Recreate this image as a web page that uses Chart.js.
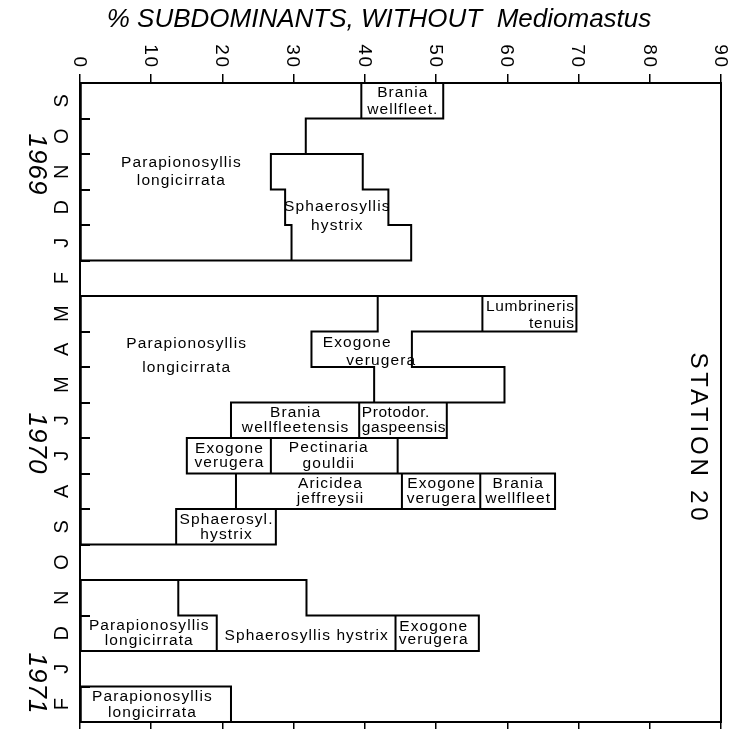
<!DOCTYPE html>
<html><head><meta charset="utf-8">
<script src="https://cdn.jsdelivr.net/npm/chart.js@4.4.1/dist/chart.umd.min.js"></script>
<style>html,body{margin:0;padding:0;background:#fff}canvas{display:block}</style>
</head><body>
<canvas id="c" width="737" height="729"></canvas>
<script>
// ---- data ----
const months = ['S','O','N','D','J','F','M','A','M','J','J','A','S','O','N','D','J','F'];
const xTickValues = [0,10,20,30,40,50,60,70,80,90];
const years = ['1969','1970','1971'];
const titleText = '% SUBDOMINANTS, WITHOUT  Mediomastus';
const stationText = 'STATION 20';
const speciesNames = ['Parapionosyllis longicirrata','Sphaerosyllis hystrix','Aricidea jeffreysii','Exogone verugera','Brania wellfleetensis','Protodorvillea gaspeensis','Pectinaria gouldii','Lumbrineris tenuis'];
const parapionosyllis = [39.5,31.7,26.8,28.8,29.7,null,41.8,32.5,41.3,21.2,15.0,21.9,13.5,null,13.8,19.2,null,21.2];
const sphaerosyllis   = [null,null,12.9,14.5,16.8,null,null,null,null,null,null,null,14.0,null,18.0,25.1,null,null];
const aricidea        = [null,null,null,null,null,null,null,null,null,null,null,23.3,null,null,null,null,null,null];
const exogone         = [null,null,null,null,null,null,14.7,14.1,18.3,null,11.8,11.0,null,null,null,11.7,null,null];
const brania          = [11.5,null,null,null,null,null,null,null,null,18.0,null,10.5,null,null,null,null,null,null];
const protodorvillea  = [null,null,null,null,null,null,null,null,null,12.3,null,null,null,null,null,null,null,null];
const pectinaria      = [null,null,null,null,null,null,null,null,null,null,17.8,null,null,null,null,null,null,null];
const lumbrineris     = [null,null,null,null,null,null,13.2,null,null,null,null,null,null,null,null,null,null,null];
const seriesValues = [parapionosyllis,sphaerosyllis,aricidea,exogone,brania,protodorvillea,pectinaria,lumbrineris];

// ---- annotation layout (text placement) ----
const boxLabels = [
 {row:0, sp:4, lines:['Brania','wellfleet.'], gap:17},
 {row:2, sp:0, lines:['Parapionosyllis','longicirrata'], gap:17.5, dx:5},
 {row:3, sp:1, lines:['Sphaerosyllis','hystrix'], gap:19, dy:9},
 {row:7, sp:0, lines:['Parapionosyllis','longicirrata'], gap:24, dx:-10, dy:6},
 {row:6, sp:7, lines:['Lumbrineris','tenuis'], gap:16.5, align:'right', dy:1.5, ls:0.7},
 {row:7, sp:3, lines:['Exogone','verugera'], gap:18, ldx:[-5,19], dy:2},
 {row:9, sp:4, lines:['Brania','wellfleetensis'], gap:15},
 {row:9, sp:5, lines:['Protodor.','gaspeensis'], gap:15, align:'left', ls:0.6},
 {row:10, sp:3, lines:['Exogone','verugera'], gap:13.5},
 {row:10, sp:6, lines:['Pectinaria','gouldii'], gap:16, dx:-6},
 {row:11, sp:2, lines:['Aricidea','jeffreysii'], gap:15, dx:11},
 {row:11, sp:3, lines:['Exogone','verugera'], gap:15},
 {row:11, sp:4, lines:['Brania','wellfleet'], gap:15},
 {row:12, sp:1, lines:['Sphaerosyl.','hystrix'], gap:15},
 {row:15, sp:0, lines:['Parapionosyllis','longicirrata'], gap:15},
 {row:15, sp:1, lines:['Sphaerosyllis hystrix'], gap:0, dy:2},
 {row:15, sp:3, lines:['Exogone','verugera'], gap:13.5, dx:-4},
 {row:17, sp:0, lines:['Parapionosyllis','longicirrata'], gap:16, dx:-4}
];
const yearAnchors = [1.78, 9.64, 16.4];

const SANS = '"Liberation Sans", Arial, sans-serif';

function txt(ctx, s, x, y, o){
  ctx.save(); ctx.translate(x,y); ctx.rotate(o.rot||0);
  ctx.font = o.font; ctx.fillStyle = '#000';
  ctx.textAlign = o.align||'center'; ctx.textBaseline = o.baseline||'middle';
  if ('letterSpacing' in ctx) ctx.letterSpacing = (o.ls||0)+'px';
  let off = 0;
  if ((o.align||'center')==='center') off = (o.ls||0)/2;
  else if (o.align==='right') off = (o.ls||0);
  ctx.fillText(s, off, 0);
  ctx.restore();
}

function rowSegments(chart){
  const out = [];
  for (let i=0;i<months.length;i++){
    const segs = [];
    chart.data.datasets.forEach((ds,d)=>{
      if (ds.data[i]==null) return;
      const el = chart.getDatasetMeta(d).data[i];
      const p = el.getProps(['x','y','base','height'], true);
      segs.push({x0:Math.min(p.x,p.base), x1:Math.max(p.x,p.base), id:d});
    });
    out.push(segs);
  }
  return out;
}
function idAt(segs, x){
  for (const s of segs) if (x>s.x0 && x<s.x1) return s.id;
  return -1;
}

const outlinePlugin = {
  id:'outline',
  afterDatasetsDraw(chart){
    const ctx = chart.ctx, ys = chart.scales.y;
    const rows = rowSegments(chart);
    const n = months.length;
    const bnd = k => ys.getPixelForValue(k-0.5);
    ctx.save();
    ctx.strokeStyle = '#000'; ctx.lineWidth = 2; ctx.lineCap = 'square';
    ctx.beginPath();
    for (let b=0;b<=n;b++){
      const A = b>0 ? rows[b-1] : [], B = b<n ? rows[b] : [];
      const pts = [...new Set([...A,...B].flatMap(s=>[s.x0,s.x1]))].sort((a,c)=>a-c);
      const y = bnd(b);
      for (let k=0;k<pts.length-1;k++){
        const m = (pts[k]+pts[k+1])/2;
        if (idAt(A,m)!==idAt(B,m)){ ctx.moveTo(pts[k],y); ctx.lineTo(pts[k+1],y); }
      }
    }
    rows.forEach((segs,i)=>{
      const y0 = bnd(i), y1 = bnd(i+1);
      segs.forEach(s=>{ ctx.moveTo(s.x0,y0); ctx.lineTo(s.x0,y1); ctx.moveTo(s.x1,y0); ctx.lineTo(s.x1,y1); });
    });
    ctx.stroke();
    ctx.restore();

    // box labels
    const font = '15.5px '+SANS;
    boxLabels.forEach(L=>{
      const seg = rows[L.row].find(s=>s.id===L.sp);
      if (!seg) return;
      const ls = L.ls!=null ? L.ls : 1.1;
      const align = L.align||'center';
      let x = align==='left' ? seg.x0+2.5 : align==='right' ? seg.x1-2.5 : (seg.x0+seg.x1)/2;
      x += (L.dx||0);
      const yc = ys.getPixelForValue(L.row) + (L.dy||0);
      const nL = L.lines.length;
      L.lines.forEach((s,j)=>{
        const yy = yc + (j-(nL-1)/2)*L.gap;
        const lx = x + (L.ldx ? L.ldx[j] : 0);
        txt(ctx, s, lx, yy, {font, ls, align});
      });
    });
  },
  afterDraw(chart){
    const ctx = chart.ctx, xs = chart.scales.x, ys = chart.scales.y, ca = chart.chartArea;
    // top tick labels (rotated clockwise)
    xs.ticks.forEach(t=>{
      if (!xTickValues.includes(t.value)) return;
      const x = xs.getPixelForValue(t.value);
      txt(ctx, String(t.value), x-1, 67, {font:'19px '+SANS, rot:Math.PI/2, align:'right', ls:1.5});
    });
    // month labels (rotated counter-clockwise)
    months.forEach((m,i)=>{
      txt(ctx, m, 62, ys.getPixelForValue(i), {font:'20px '+SANS, rot:-Math.PI/2});
    });
    // year labels
    years.forEach((yr,i)=>{
      txt(ctx, yr, 36, ys.getPixelForValue(yearAnchors[i]), {font:'italic 26px '+SANS, rot:Math.PI/2, ls:1});
    });
    // title
    txt(ctx, titleText, 379, 20, {font:'italic 26px '+SANS});
    // station
    txt(ctx, stationText, 698, (ca.top+ca.bottom)/2 + 34, {font:'24px '+SANS, rot:Math.PI/2, ls:3.8});
  }
};

const datasets = seriesValues.map((vals,i)=>({
  label: speciesNames[i], data: vals,
  backgroundColor:'rgba(255,255,255,0)', borderWidth:0,
  barPercentage:1, categoryPercentage:1,
  xAxisID:'x', yAxisID:'y'
}));

new Chart(document.getElementById('c'), {
  type:'bar',
  data:{ labels: months, datasets },
  options:{
    indexAxis:'y', responsive:false, animation:false, devicePixelRatio:1, events:[],
    layout:{ padding:{left:80, right:16, top:74, bottom:0} },
    plugins:{ legend:{display:false}, tooltip:{enabled:false}, title:{display:false} },
    scales:{
      x:{ type:'linear', position:'top', stacked:true, min:0, max:90,
          ticks:{ display:false, stepSize:10 },
          grid:{ drawOnChartArea:false, tickLength:9, color:'#000', lineWidth:1.5 },
          border:{ display:true, color:'#000', width:2 },
          afterFit(s){ s.height = 9; } },
      x2:{ type:'linear', position:'bottom', min:0, max:90,
          ticks:{ display:false, stepSize:10 },
          grid:{ drawOnChartArea:false, tickLength:7, color:'#000', lineWidth:1.5 },
          border:{ display:true, color:'#000', width:2 },
          afterFit(s){ s.height = 7; } },
      y:{ type:'category', position:'left', stacked:true, offset:true,
          ticks:{ display:false },
          grid:{ drawOnChartArea:false, tickLength:-10, offset:true, color:'#000', lineWidth:2 },
          border:{ display:true, color:'#000', width:2 },
          afterFit(s){ s.width = 0; } },
      y2:{ type:'category', position:'right', offset:true, labels: months,
          ticks:{ display:false },
          grid:{ display:false },
          border:{ display:true, color:'#000', width:2 },
          afterFit(s){ s.width = 0; } }
    }
  },
  plugins:[outlinePlugin]
});
</script>
</body></html>
